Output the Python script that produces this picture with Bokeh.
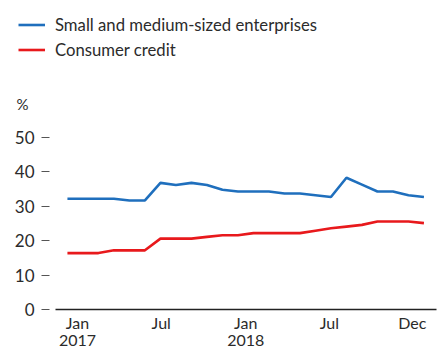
from bokeh.plotting import figure
from bokeh.layouts import column
from bokeh.models import (FixedTicker, Range1d, Legend, LegendItem, Label, ColumnDataSource, LinearAxis)
from bokeh.embed import file_html
from bokeh.resources import INLINE

# Data: monthly, Jan 2017 .. Dec 2018 (index 0..23)
months = list(range(24))
sme = [32.2, 32.2, 32.2, 32.2, 31.7, 31.7, 36.8, 36.2, 36.8, 36.2, 34.8, 34.3,
       34.3, 34.3, 33.7, 33.7, 33.2, 32.7, 38.3, 36.3, 34.3, 34.3, 33.2, 32.7]
consumer = [16.4, 16.4, 16.4, 17.2, 17.2, 17.2, 20.6, 20.6, 20.6, 21.1, 21.6, 21.6,
            22.2, 22.2, 22.2, 22.2, 22.9, 23.6, 24.1, 24.6, 25.6, 25.6, 25.6, 25.1]
month_tick_pos = [0.65, 6.05, 11.5, 16.9, 22.25]
month_labels = ["Jan", "Jul", "Jan", "Jul", "Dec"]
year_tick_pos = [0.65, 11.5]
year_labels = ["2017", "2018"]
y_ticks = [0, 10, 20, 30, 40, 50]

FONT = "Lato"
TXT = "#2b2b2b"
BLUE = "#1f6fbd"
RED = "#e8191c"

src = ColumnDataSource(dict(x=months, sme=sme, consumer=consumer))

TOP_H = 115

# ---- top strip: legend and unit label ----
top = figure(width=441, height=TOP_H, output_backend="svg", toolbar_location=None,
             x_axis_type=None, y_axis_type=None, frame_align=False,
             x_range=Range1d(-0.77, 23.81), y_range=Range1d(-1000, -999),
             min_border_left=0, min_border_right=0, min_border_top=0, min_border_bottom=0)
top.outline_line_color = None
top.grid.grid_line_color = None
t1 = top.line("x", "sme", source=src, line_color=BLUE, line_width=2.6)
t2 = top.line("x", "consumer", source=src, line_color=RED, line_width=2.6)
legend = Legend(items=[LegendItem(label="Small and medium-sized enterprises", renderers=[t1]),
                       LegendItem(label="Consumer credit", renderers=[t2])],
                location=(18, TOP_H - 62), padding=0, spacing=0, margin=0,
                glyph_width=27, glyph_height=25, label_height=25, label_standoff=10,
                border_line_color=None, background_fill_alpha=0,
                label_text_font=FONT, label_text_font_size="16.7px", label_text_color=TXT)
top.add_layout(legend)
pct = Label(x=16, y=TOP_H - 103, x_units="screen", y_units="screen", text="%",
            text_font=FONT, text_font_size="15px", text_color=TXT,
            text_baseline="middle", text_align="left")
top.add_layout(pct)

# ---- main chart ----
p = figure(width=441, height=352 - TOP_H, output_backend="svg", toolbar_location=None,
           frame_align=False,
           x_range=Range1d(-0.77, 23.81), y_range=Range1d(0, (309 - TOP_H) / 3.44),
           min_border_left=55, min_border_right=5, min_border_top=0, min_border_bottom=43)
p.outline_line_color = None
p.grid.grid_line_color = None

p.line("x", "sme", source=src, line_color=BLUE, line_width=2.6)
p.line("x", "consumer", source=src, line_color=RED, line_width=2.6)

xa = p.xaxis[0]
xa.ticker = FixedTicker(ticks=month_tick_pos)
xa.major_label_overrides = {t: l for t, l in zip(month_tick_pos, month_labels)}
xa.major_tick_line_color = None
xa.minor_tick_line_color = None
xa.major_tick_out = 0
xa.major_tick_in = 0
xa.major_label_standoff = 3
xa.axis_line_color = "#222222"
xa.axis_line_width = 1.3
xa.major_label_text_font = FONT
xa.major_label_text_font_size = "16px"
xa.major_label_text_color = TXT

ya2 = LinearAxis(ticker=FixedTicker(ticks=year_tick_pos),
                 major_label_overrides={t: l for t, l in zip(year_tick_pos, year_labels)},
                 axis_line_color=None, major_tick_line_color=None, minor_tick_line_color=None,
                 major_tick_out=0, major_tick_in=0, major_label_standoff=0,
                 major_label_text_font=FONT, major_label_text_font_size="16px",
                 major_label_text_color=TXT)
p.add_layout(ya2, "below")

ya = p.yaxis[0]
ya.ticker = FixedTicker(ticks=y_ticks)
ya.axis_line_color = None
ya.minor_tick_line_color = None
ya.major_tick_in = -6
ya.major_tick_out = 14
ya.major_tick_line_color = "#555555"
ya.major_tick_line_width = 1
ya.major_label_standoff = 7
ya.major_label_text_font = FONT
ya.major_label_text_font_size = "17px"
ya.major_label_text_color = TXT

layout = column(top, p, spacing=0)
open("out.html", "w").write(file_html(layout, INLINE))
